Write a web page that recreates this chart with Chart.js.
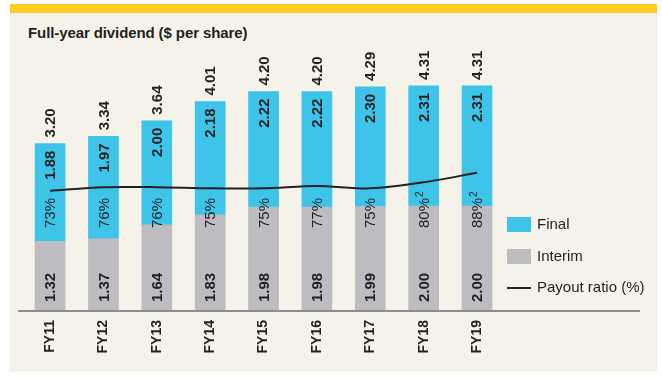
<!DOCTYPE html>
<html>
<head>
<meta charset="utf-8">
<script src="https://cdn.jsdelivr.net/npm/chart.js@4.4.1/dist/chart.umd.min.js"></script>
<style>
  body { margin: 0; background: #fff; }
  #wrap { position: relative; width: 662px; height: 378px; }
  #panel { position: absolute; left: 10px; top: 4px; width: 647px; height: 368px; background: #f5f2ea; }
  #band { position: absolute; left: 10px; top: 4px; width: 647px; height: 9px; background: #ffcd22; }
  #title { position: absolute; left: 28px; top: 24px; font: bold 15px "Liberation Sans", Arial, sans-serif; color: #231f20; letter-spacing: -0.1px; }
  #c { position: absolute; left: 0; top: 0; }
</style>
</head>
<body>
<div id="wrap">
  <div id="panel"></div>
  <div id="band"></div>
  <div id="title">Full-year dividend ($ per share)</div>
  <canvas id="c" width="662" height="378"></canvas>
</div>
<script>
// data
let categories = ['FY11', 'FY12', 'FY13', 'FY14', 'FY15', 'FY16', 'FY17', 'FY18', 'FY19'];
let interim = [1.32, 1.37, 1.64, 1.83, 1.98, 1.98, 1.99, 2.00, 2.00];
let final = [1.88, 1.97, 2.00, 2.18, 2.22, 2.22, 2.30, 2.31, 2.31];
let payout = [73, 76, 76, 75, 75, 77, 75, 80, 88];
let payoutNotes = ['', '', '', '', '', '', '', '2', '2'];

let blue = '#3ec4e8';
let grey = '#bdbdc1';
let ink = '#231f20';
let fontFam = '"Liberation Sans", Arial, sans-serif';

function rotText(ctx, txt, x, y, align, font) {
    ctx.save();
    ctx.translate(x, y);
    ctx.rotate(-Math.PI / 2);
    ctx.font = font;
    ctx.textAlign = align;
    ctx.fillText(txt, 0, 0);
    let w = ctx.measureText(txt).width;
    ctx.restore();
    return w;
}

const labelPlugin = {
    id: 'barLabels',
    beforeDatasetsDraw(chart) {
        let ctx = chart.ctx;
        let base = chart.scales.y.getPixelForValue(0);
        ctx.save();
        ctx.strokeStyle = '#8c8c8c';
        ctx.lineWidth = 2;
        ctx.beginPath();
        ctx.moveTo(18, base + 1);
        ctx.lineTo(640, base + 1);
        ctx.stroke();
        ctx.restore();
    },
    afterDatasetsDraw(chart) {
        let ctx = chart.ctx;
        let finalMeta = chart.getDatasetMeta(1);
        let base = chart.scales.y.getPixelForValue(0);
        ctx.save();
        ctx.fillStyle = ink;
        ctx.textBaseline = 'middle';
        let bold = 'bold 15px ' + fontFam;
        categories.forEach((c, i) => {
            let bar = finalMeta.data[i];
            let x = bar.x + 1;
            let top = bar.y;
            let total = interim[i] + final[i];
            rotText(ctx, total.toFixed(2), x, top - 6, 'left', bold);
            rotText(ctx, final[i].toFixed(2), x, top + 7, 'right', bold);
            rotText(ctx, interim[i].toFixed(2), x, base - 8, 'left', bold);
            let w = rotText(ctx, payout[i] + '%', x, base - 82, 'left', '15px ' + fontFam);
            if (payoutNotes[i]) {
                rotText(ctx, payoutNotes[i], x - 4, base - 82 - w - 1, 'left', '10px ' + fontFam);
            }
        });
        ctx.restore();
    },
    afterDraw(chart) {
        // legend
        let ctx = chart.ctx;
        ctx.save();
        ctx.font = '15px ' + fontFam;
        ctx.textBaseline = 'middle';
        ctx.fillStyle = blue;
        ctx.fillRect(507, 217, 24, 15);
        ctx.fillStyle = grey;
        ctx.fillRect(507, 249, 24, 15);
        ctx.strokeStyle = ink;
        ctx.lineWidth = 2;
        ctx.beginPath();
        ctx.moveTo(507, 288);
        ctx.lineTo(531, 288);
        ctx.stroke();
        ctx.fillStyle = ink;
        ctx.fillText(chart.data.datasets[1].label, 537, 225);
        ctx.fillText(chart.data.datasets[0].label, 537, 257);
        ctx.fillText(chart.data.datasets[2].label, 537, 288);
        ctx.restore();
    }
};

new Chart(document.getElementById('c'), {
    type: 'bar',
    data: {
        labels: categories,
        datasets: [{
            label: 'Interim',
            data: interim,
            backgroundColor: grey,
            barThickness: 30,
            yAxisID: 'y',
            order: 2
        }, {
            label: 'Final',
            data: final,
            backgroundColor: blue,
            barThickness: 30,
            yAxisID: 'y',
            order: 2
        }, {
            type: 'line',
            label: 'Payout ratio (%)',
            data: payout,
            borderColor: ink,
            borderWidth: 2,
            pointRadius: 0,
            tension: 0.3,
            yAxisID: 'y1',
            order: 0
        }]
    },
    options: {
        responsive: false,
        animation: false,
        devicePixelRatio: 1,
        layout: { padding: { left: 23.4, right: 158.3, top: 50, bottom: 0 } },
        plugins: { legend: { display: false }, tooltip: { enabled: false } },
        scales: {
            x: {
                stacked: true,
                grid: { display: false, drawTicks: false },
                border: { display: false },
                ticks: {
                    minRotation: 90, maxRotation: 90, padding: 10,
                    color: ink, font: { family: fontFam, size: 14, weight: 'bold' }
                },
                afterFit: s => { s.height = 68; }
            },
            y: { stacked: true, display: false, min: 0, max: 5 },
            y1: { display: false, min: -26.4, max: 190.3 }
        }
    },
    plugins: [labelPlugin]
});
</script>
</body>
</html>
